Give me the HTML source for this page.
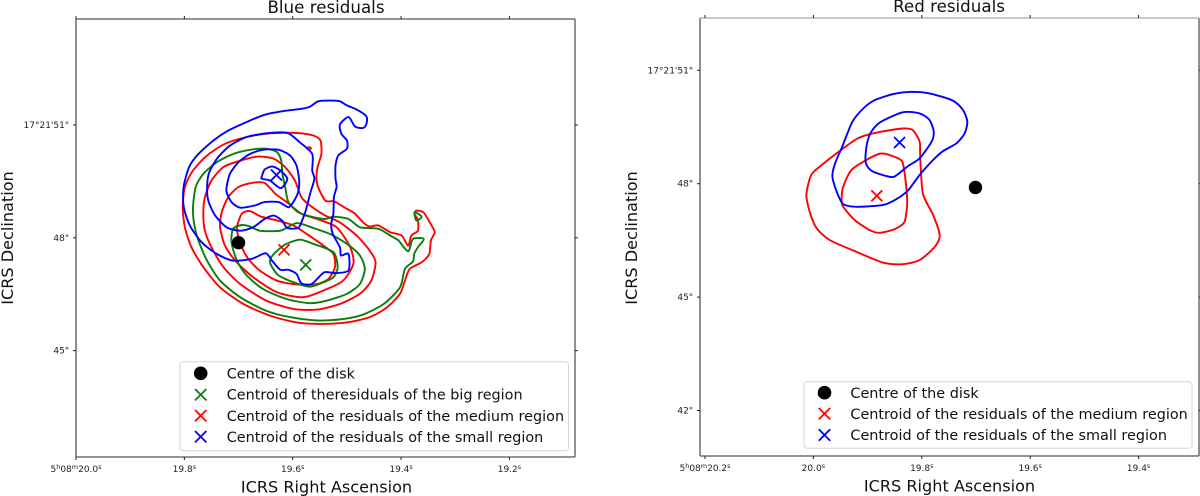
<!DOCTYPE html>
<html lang="en">
<head>
<meta charset="utf-8">
<title>Blue and red residuals</title>
<style>
html,body{margin:0;padding:0;background:#fff;width:1200px;height:496px;overflow:hidden}
svg{display:block;font-family:"DejaVu Sans","Liberation Sans",sans-serif;filter:blur(0.35px)}
.lg{font-size:14.4px;fill:#111}
.ax{font-size:16.1px;fill:#111}
.ti{font-size:16.7px;fill:#111}
.tk{font-size:9px;fill:#222}
</style>
</head>
<body>
<svg id="chart" width="1200" height="496" viewBox="0 0 1200 496" xmlns="http://www.w3.org/2000/svg">
<rect width="1200" height="496" fill="#fff"/>
<g id="left-panel"></g>
<g id="right-panel"></g>
<text class="ti" x="326" y="13" text-anchor="middle">Blue residuals</text>
<text class="ti" x="949" y="12" text-anchor="middle">Red residuals</text>
<text class="ax" x="326.5" y="492.5" text-anchor="middle">ICRS Right Ascension</text>
<text class="ax" x="949.5" y="491.5" text-anchor="middle">ICRS Right Ascension</text>
<text class="ax" transform="translate(13,238) rotate(-90)" text-anchor="middle">ICRS Declination</text>
<text class="ax" transform="translate(637,238) rotate(-90)" text-anchor="middle">ICRS Declination</text>

<g>
  <rect x="180" y="361.7" width="388.5" height="89" rx="3" fill="#fff" fill-opacity=".85" stroke="#d5d5d5"/>
  <circle cx="200.7" cy="373.3" r="6.8" fill="#000"/>
  <text class="lg" x="226.7" y="378.5">Centre of the disk</text>
  <path d="M195 389l11.4 11.4M206.4 389l-11.4 11.4" stroke="#0a7d0a" stroke-width="1.8" fill="none"/>
  <text class="lg" x="226.7" y="399.7">Centroid of theresiduals of the big region</text>
  <path d="M195 410l11.4 11.4M206.4 410l-11.4 11.4" stroke="#f00" stroke-width="1.8" fill="none"/>
  <text class="lg" x="226.7" y="420.9">Centroid of the residuals of the medium region</text>
  <path d="M195 431l11.4 11.4M206.4 431l-11.4 11.4" stroke="#00f" stroke-width="1.8" fill="none"/>
  <text class="lg" x="226.7" y="441.9">Centroid of the residuals of the small region</text>
</g>
<g>
  <rect x="804" y="381.7" width="388" height="66.5" rx="3" fill="#fff" fill-opacity=".85" stroke="#d5d5d5"/>
  <circle cx="824.5" cy="392.7" r="6.8" fill="#000"/>
  <text class="lg" x="850.4" y="397.9">Centre of the disk</text>
  <path d="M818.8 408l11.4 11.4M830.2 408l-11.4 11.4" stroke="#f00" stroke-width="1.8" fill="none"/>
  <text class="lg" x="850.4" y="418.9">Centroid of the residuals of the medium region</text>
  <path d="M818.8 429.3l11.4 11.4M830.2 429.3l-11.4 11.4" stroke="#00f" stroke-width="1.8" fill="none"/>
  <text class="lg" x="850.4" y="440.2">Centroid of the residuals of the small region</text>
</g>
</svg>

<script>
// ---- Tick values and labels ----
const blueRaTicks = [20.0, 19.8, 19.6, 19.4, 19.2];
const blueRaLabels = [["5","h","08","m","20.0","s"], ["19.8","s"], ["19.6","s"], ["19.4","s"], ["19.2","s"]];
const blueDecTicks = [51, 48, 45];
const blueDecLabels = ["17°21'51\"", "48\"", "45\""];
const redRaTicks = [20.2, 20.0, 19.8, 19.6, 19.4];
const redRaLabels = [["5","h","08","m","20.2","s"], ["20.0","s"], ["19.8","s"], ["19.6","s"], ["19.4","s"]];
const redDecTicks = [51, 48, 45, 42];
const redDecLabels = ["17°21'51\"", "48\"", "45\"", "42\""];

// ---- Blue panel contours: [RA seconds, Dec arcsec] ----
const blueContourOuter = [[19.802,49.26],[19.799,49.52],[19.790,49.92],[19.774,50.23],[19.746,50.59],[19.719,50.85],[19.685,51.08],[19.652,51.27],[19.617,51.37],[19.584,51.43],[19.568,51.49],[19.553,51.63],[19.531,51.65],[19.513,51.63],[19.500,51.52],[19.482,51.41],[19.464,51.23],[19.464,51.03],[19.470,50.92],[19.485,50.96],[19.497,51.21],[19.513,51.01],[19.510,50.76],[19.500,50.59],[19.500,50.37],[19.516,50.19],[19.521,49.92],[19.521,49.57],[19.519,49.35],[19.524,49.08],[19.525,48.64],[19.529,48.37],[19.526,48.10],[19.513,47.75],[19.511,47.53],[19.497,47.57],[19.497,47.13],[19.522,47.06],[19.542,47.08],[19.565,46.77],[19.584,46.79],[19.593,47.04],[19.608,47.15],[19.623,47.15],[19.638,47.39],[19.650,47.59],[19.676,47.44],[19.710,47.39],[19.740,47.57],[19.768,47.88],[19.790,48.33],[19.801,48.81]];
const blueContourMid = [[19.758,49.26],[19.755,49.70],[19.740,50.10],[19.716,50.45],[19.685,50.68],[19.649,50.78],[19.610,50.79],[19.587,50.54],[19.564,50.23],[19.564,49.79],[19.560,49.57],[19.568,49.17],[19.576,48.72],[19.584,48.41],[19.590,48.26],[19.610,48.26],[19.620,48.46],[19.635,48.59],[19.652,48.50],[19.673,48.28],[19.697,48.19],[19.722,48.28],[19.743,48.59],[19.755,48.95]];
const blueContourSmall = [[19.722,49.35],[19.716,49.70],[19.700,50.01],[19.679,50.23],[19.655,50.34],[19.626,50.34],[19.605,50.19],[19.593,49.92],[19.588,49.52],[19.590,49.21],[19.599,48.95],[19.608,48.81],[19.626,48.95],[19.652,48.95],[19.670,48.86],[19.697,48.80],[19.713,48.95],[19.722,49.21]];
const blueContourTiny = [[19.657,49.63],[19.652,49.81],[19.638,49.90],[19.623,49.79],[19.610,49.57],[19.622,49.32],[19.642,49.52],[19.657,49.57]];
const redContourOuter = [[19.372,48.72],[19.359,48.68],[19.347,48.41],[19.338,48.15],[19.345,47.93],[19.348,47.57],[19.362,47.35],[19.384,47.17],[19.393,46.86],[19.402,46.51],[19.426,46.15],[19.458,45.89],[19.500,45.75],[19.549,45.71],[19.593,45.75],[19.642,45.93],[19.691,46.24],[19.734,46.68],[19.765,47.22],[19.787,47.75],[19.799,48.28],[19.803,48.81],[19.799,49.35],[19.784,49.79],[19.758,50.19],[19.725,50.50],[19.685,50.68],[19.642,50.78],[19.593,50.79],[19.562,50.72],[19.549,50.59],[19.547,50.23],[19.555,49.83],[19.555,49.43],[19.540,48.99],[19.524,48.97],[19.500,48.77],[19.485,48.64],[19.470,48.41],[19.458,48.30],[19.442,48.33],[19.420,48.15],[19.399,48.06],[19.387,47.79],[19.381,48.06],[19.369,48.19],[19.369,48.46],[19.375,48.64]];
const redContourMedium = [[19.765,48.64],[19.762,49.08],[19.750,49.52],[19.728,49.88],[19.697,50.05],[19.664,50.16],[19.635,50.10],[19.614,49.88],[19.596,49.52],[19.584,49.08],[19.568,48.86],[19.540,48.59],[19.513,48.41],[19.482,48.06],[19.458,47.66],[19.447,47.35],[19.455,46.86],[19.476,46.51],[19.513,46.24],[19.555,46.09],[19.599,46.11],[19.649,46.33],[19.697,46.77],[19.728,47.22],[19.750,47.75],[19.762,48.19]];
const redContourSmall = [[19.734,48.28],[19.731,48.68],[19.719,49.08],[19.700,49.35],[19.676,49.46],[19.652,49.46],[19.632,49.17],[19.611,48.95],[19.584,48.64],[19.555,48.50],[19.519,48.28],[19.494,47.75],[19.488,47.31],[19.507,46.86],[19.543,46.60],[19.581,46.42],[19.629,46.55],[19.673,46.95],[19.706,47.39],[19.725,47.79]];
const redContourInner = [[19.703,48.28],[19.694,48.64],[19.679,48.71],[19.658,48.56],[19.629,48.46],[19.599,48.33],[19.574,48.10],[19.543,47.79],[19.525,47.57],[19.522,47.22],[19.534,46.91],[19.555,46.77],[19.593,46.76],[19.629,46.86],[19.661,47.13],[19.682,47.44],[19.694,47.75],[19.700,48.01]];
const redContourSpeck = [[19.570,50.41],[19.566,50.38],[19.570,50.34],[19.574,50.38]];
const greenContourOuter = [[19.784,48.81],[19.779,49.35],[19.765,49.70],[19.740,50.01],[19.710,50.23],[19.679,50.34],[19.649,50.37],[19.629,50.28],[19.621,50.05],[19.619,49.70],[19.614,49.35],[19.608,48.95],[19.590,48.68],[19.568,48.57],[19.540,48.50],[19.525,48.56],[19.497,48.50],[19.476,48.28],[19.442,48.24],[19.420,48.06],[19.405,47.93],[19.387,47.64],[19.378,47.97],[19.358,47.97],[19.369,47.75],[19.376,47.57],[19.378,47.37],[19.393,47.17],[19.402,46.68],[19.432,46.24],[19.470,45.96],[19.507,45.84],[19.555,45.80],[19.605,45.89],[19.649,46.06],[19.697,46.42],[19.734,46.86],[19.758,47.39],[19.774,47.93],[19.782,48.37]];
const greenContourTip = [[19.375,48.68],[19.362,48.56],[19.372,48.46]];
const greenContourMid = [[19.713,47.88],[19.710,48.24],[19.694,48.34],[19.679,48.30],[19.661,48.19],[19.623,48.19],[19.593,48.39],[19.562,48.26],[19.531,48.10],[19.500,47.84],[19.476,47.53],[19.467,47.17],[19.476,46.77],[19.500,46.51],[19.537,46.33],[19.568,46.26],[19.611,46.37],[19.655,46.64],[19.685,47.00],[19.703,47.39]];
const greenContourInner = [[19.642,47.39],[19.635,47.57],[19.614,47.82],[19.587,47.95],[19.562,47.84],[19.525,47.62],[19.517,47.22],[19.525,46.95],[19.543,46.82],[19.568,46.70],[19.599,46.82],[19.626,47.00],[19.638,47.22]];

// ---- Blue panel centroids: [RA seconds, Dec arcsec] ----
const blueDiskCentre = [19.700, 47.87];
const blueCentroidGreen = [19.576, 47.28];
const blueCentroidRed = [19.616, 47.68];
const blueCentroidBlue = [19.630, 49.67];

// ---- Red panel contours: [RA seconds, Dec arcsec] ----
const redPanelBlueOuter = [[19.965,48.19],[19.960,48.54],[19.948,48.94],[19.928,49.64],[19.908,49.99],[19.887,50.21],[19.853,50.37],[19.819,50.43],[19.786,50.39],[19.743,50.20],[19.724,49.95],[19.716,49.64],[19.721,49.33],[19.736,49.07],[19.761,48.86],[19.779,48.63],[19.804,48.23],[19.825,47.83],[19.847,47.59],[19.871,47.44],[19.918,47.39],[19.945,47.46],[19.957,47.79]];
const redPanelBlueInner = [[19.904,48.67],[19.901,49.07],[19.893,49.38],[19.875,49.64],[19.835,49.89],[19.804,49.86],[19.786,49.69],[19.778,49.38],[19.782,49.11],[19.804,48.67],[19.825,48.47],[19.850,48.19],[19.865,48.20],[19.890,48.32],[19.901,48.47]];
const redPanelRedOuter = [[20.013,47.70],[20.004,48.23],[19.985,48.49],[19.951,48.87],[19.918,49.20],[19.884,49.35],[19.835,49.46],[19.817,49.42],[19.804,49.11],[19.803,48.71],[19.798,47.74],[19.779,47.17],[19.767,46.64],[19.776,46.33],[19.804,45.98],[19.835,45.87],[19.871,45.91],[19.921,46.20],[19.970,46.51],[19.994,46.82],[20.006,47.22]];
const redPanelRedInner = [[19.948,47.57],[19.945,47.92],[19.930,48.36],[19.902,48.63],[19.875,48.80],[19.850,48.71],[19.836,48.58],[19.830,48.10],[19.827,47.48],[19.832,46.99],[19.850,46.80],[19.878,46.70],[19.896,46.77],[19.924,47.04],[19.945,47.39]];

// ---- Red panel centroids ----
const redDiskCentre = [19.701, 47.90];
const redCentroidRed = [19.883, 47.68];
const redCentroidBlue = [19.841, 49.09];

const NS = 'http://www.w3.org/2000/svg';
const GREEN = '#0a7d0a';
const RED = '#f00';
const BLUE = '#00f';

// Axis functions
function blueX(ra){ return 76 + (20.0 - ra) * 541.8; }
function blueY(dec){ return 125 + (51 - dec) * 37.6; }
function redX(ra){ return 705 + (20.2 - ra) * 542; }
function redY(dec){ return 70.3 + (51 - dec) * 37.8; }

function make(tag, parent){
  const el = document.createElementNS(NS, tag);
  parent.appendChild(el);
  return el;
}

// Closed curve through the data points (Catmull-Rom style, reduced tension)
function drawContour(parent, pts, color, sx, sy, name){
  const el = make('path', parent);
  
  
  const P = pts.map(function(p){ return [sx(p[0]), sy(p[1])]; });
  const n = P.length;
  let d = 'M' + P[0][0].toFixed(1) + ' ' + P[0][1].toFixed(1);
  for (let i = 0; i < n; i++) {
    const a = P[(i - 1 + n) % n], b = P[i], c = P[(i + 1) % n], e = P[(i + 2) % n];
    const c1x = b[0] + (c[0] - a[0]) / 8, c1y = b[1] + (c[1] - a[1]) / 8;
    const c2x = c[0] - (e[0] - b[0]) / 8, c2y = c[1] - (e[1] - b[1]) / 8;
    d += 'C' + c1x.toFixed(1) + ' ' + c1y.toFixed(1) + ' ' + c2x.toFixed(1) + ' ' + c2y.toFixed(1) + ' ' + c[0].toFixed(1) + ' ' + c[1].toFixed(1);
  }
  el.setAttribute('d', d + 'Z');
  el.setAttribute('fill', 'none');
  el.setAttribute('stroke', color);
  el.setAttribute('stroke-width', '1.9');
  el.setAttribute('stroke-linejoin', 'round');
}

function drawCross(parent, p, color, sx, sy, name){
  const x = sx(p[0]), y = sy(p[1]), s = 5.5;
  const el = make('path', parent);
  
  
  el.setAttribute('d', 'M' + (x-s) + ' ' + (y-s) + 'L' + (x+s) + ' ' + (y+s) + 'M' + (x+s) + ' ' + (y-s) + 'L' + (x-s) + ' ' + (y+s));
  el.setAttribute('fill', 'none');
  el.setAttribute('stroke', color);
  el.setAttribute('stroke-width', '1.8');
}

function drawDisk(parent, p, sx, sy){
  const el = make('circle', parent);
  
  
  el.setAttribute('cx', sx(p[0]));
  el.setAttribute('cy', sy(p[1]));
  el.setAttribute('r', '6.7');
  el.setAttribute('fill', '#000');
}

function drawFrame(parent, x0, y0, x1, y1, topColor){
  const sides = [[x0,y0,x0,y1,'#555'],[x0,y1,x1,y1,'#555'],[x1,y0,x1,y1,'#555'],[x0,y0,x1,y0,topColor]];
  sides.forEach(function(s){
    const el = make('line', parent);
    
    
    el.setAttribute('x1', s[0]);
    el.setAttribute('y1', s[1]);
    el.setAttribute('x2', s[2]);
    el.setAttribute('y2', s[3]);
    el.setAttribute('stroke', s[4]);
    el.setAttribute('stroke-width', '1.3');
  });
}

function tickLine(parent, x1, y1, x2, y2){
  const el = make('line', parent);
  
  
  el.setAttribute('x1', x1);
  el.setAttribute('y1', y1);
  el.setAttribute('x2', x2);
  el.setAttribute('y2', y2);
  el.setAttribute('stroke', '#222');
  el.setAttribute('stroke-width', '1');
}

function drawXTicks(parent, ticks, labels, sx, y0, y1, labelY){
  ticks.forEach(function(t, i){
    const x = sx(t);
    tickLine(parent, x, y1, x, y1 + 3);
    tickLine(parent, x, y0, x, y0 - 3);
    const el = make('text', parent);
    
    
    el.setAttribute('class', 'tk');
    el.setAttribute('x', x);
    el.setAttribute('y', labelY);
    el.setAttribute('text-anchor', 'middle');
    labels[i].forEach(function(part, j){
      const sp = make('tspan', el);
      sp.textContent = part;
      if (j % 2 === 1) { sp.setAttribute('font-size', '6.5'); sp.setAttribute('dy', '-3'); }
      else if (j > 0) { sp.setAttribute('dy', '3'); }
    });
  });
}

function drawYTicks(parent, ticks, labels, sy, x0, x1){
  ticks.forEach(function(t, i){
    const y = sy(t);
    tickLine(parent, x0 - 3, y, x0, y);
    tickLine(parent, x1, y, x1 + 3, y);
    const el = make('text', parent);
    
    
    el.setAttribute('class', 'tk');
    el.setAttribute('x', x0 - 7);
    el.setAttribute('y', y + 3);
    el.setAttribute('text-anchor', 'end');
    el.textContent = labels[i];
  });
}

// Left panel
const L = document.getElementById('left-panel');
drawContour(L, redContourOuter, RED, blueX, blueY, 'red-contour-outer');
drawContour(L, redContourMedium, RED, blueX, blueY, 'red-contour-medium');
drawContour(L, redContourSmall, RED, blueX, blueY, 'red-contour-small');
drawContour(L, redContourInner, RED, blueX, blueY, 'red-contour-inner');
drawContour(L, redContourSpeck, RED, blueX, blueY, 'red-contour-speck');
drawContour(L, greenContourOuter, GREEN, blueX, blueY, 'green-contour-outer');
drawContour(L, greenContourTip, GREEN, blueX, blueY, 'green-contour-tip');
drawContour(L, greenContourMid, GREEN, blueX, blueY, 'green-contour-mid');
drawContour(L, greenContourInner, GREEN, blueX, blueY, 'green-contour-inner');
drawContour(L, blueContourOuter, BLUE, blueX, blueY, 'blue-contour-outer');
drawContour(L, blueContourMid, BLUE, blueX, blueY, 'blue-contour-mid');
drawContour(L, blueContourSmall, BLUE, blueX, blueY, 'blue-contour-small');
drawContour(L, blueContourTiny, BLUE, blueX, blueY, 'blue-contour-tiny');
drawDisk(L, blueDiskCentre, blueX, blueY);
drawCross(L, blueCentroidGreen, GREEN, blueX, blueY, 'centroid-big-region');
drawCross(L, blueCentroidRed, RED, blueX, blueY, 'centroid-medium-region');
drawCross(L, blueCentroidBlue, BLUE, blueX, blueY, 'centroid-small-region');
drawFrame(L, 76, 19, 575, 457, '#555');
drawXTicks(L, blueRaTicks, blueRaLabels, blueX, 19, 457, 472);
drawYTicks(L, blueDecTicks, blueDecLabels, blueY, 76, 575);

// Right panel
const R = document.getElementById('right-panel');
drawContour(R, redPanelRedOuter, RED, redX, redY, 'red-contour-outer');
drawContour(R, redPanelRedInner, RED, redX, redY, 'red-contour-inner');
drawContour(R, redPanelBlueOuter, BLUE, redX, redY, 'blue-contour-outer');
drawContour(R, redPanelBlueInner, BLUE, redX, redY, 'blue-contour-inner');
drawDisk(R, redDiskCentre, redX, redY);
drawCross(R, redCentroidRed, RED, redX, redY, 'centroid-medium-region');
drawCross(R, redCentroidBlue, BLUE, redX, redY, 'centroid-small-region');
drawFrame(R, 700, 18, 1199, 456, '#aaa');
drawXTicks(R, redRaTicks, redRaLabels, redX, 18, 456, 471);
drawYTicks(R, redDecTicks, redDecLabels, redY, 700, 1199);
</script>
</body>
</html>
